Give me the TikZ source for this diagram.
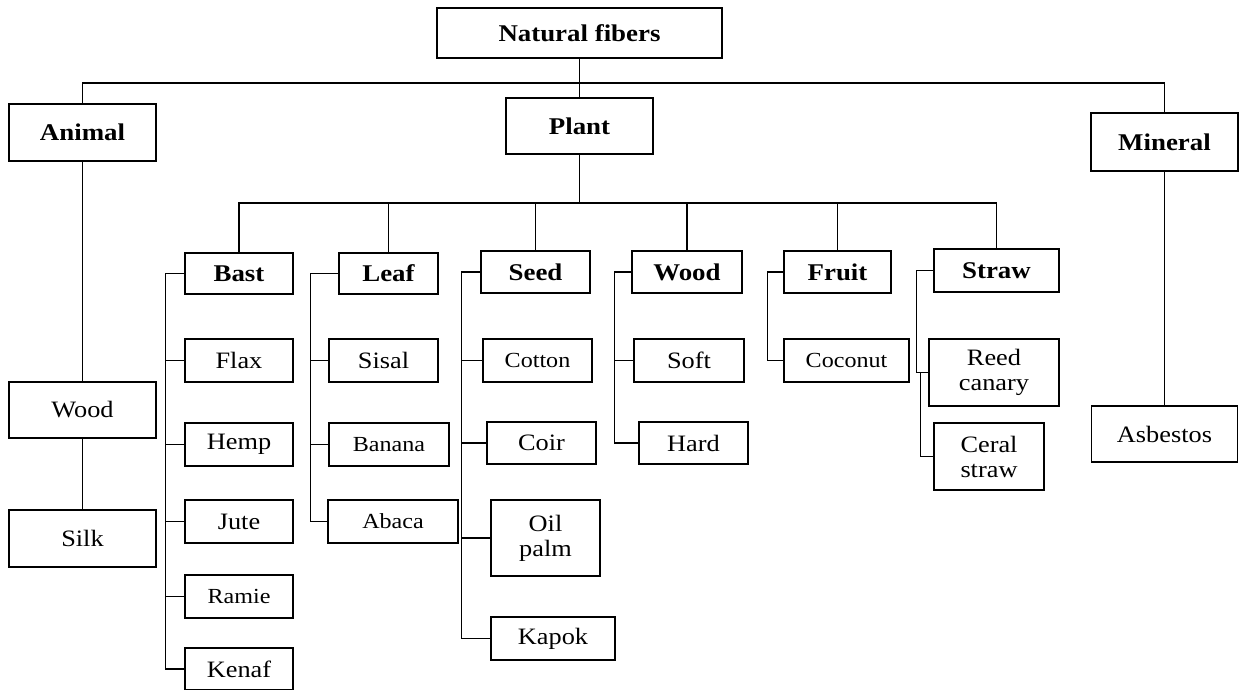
\documentclass[tikz,border=0pt]{standalone}
\usepackage{fontspec}
\setmainfont{Liberation Serif}[FakeStretch=1.12]
\usepackage{tikz}
\tikzset{
        catbox/.style={rectangle, draw, line width=1.5pt, inner sep=0pt, align=center, font=\fontsize{24}{26}\selectfont\bfseries},
        itembox/.style={rectangle, draw, line width=1.5pt, inner sep=0pt, align=center, font=\fontsize{23.5}{25}\selectfont},
        smallbox/.style={itembox, font=\fontsize{21.5}{25}\selectfont},
        box size/.style 2 args={minimum width=#1pt, minimum height=#2pt}
    }
\begin{document}
\begin{tikzpicture}[x=1pt,y=-1pt,line width=1.5pt]
\useasboundingbox (0,0) rectangle (1240,690);
\node(NF)[catbox,box size={285}{50}] at (579.5,33) {Natural fibers};
\node(AN)[catbox,box size={147}{57}] at (82.5,132.5) {Animal};
\node(PL)[catbox,box size={147}{56}] at (579.5,126) {Plant};
\node(MI)[catbox,box size={147}{58}] at (1164.5,142) {Mineral};
\node(AW)[itembox,box size={147}{56}] at (82.5,410) {Wood};
\node(SI)[itembox,box size={147}{57}] at (82.5,538.5) {Silk};
\node(AS)[itembox,box size={146}{56}] at (1164.5,434) {Asbestos};
\node(BA)[catbox,box size={108}{41}] at (239,273.5) {Bast};
\node(FL)[itembox,box size={108}{43}] at (239,360.5) {Flax};
\node(HE)[itembox,box size={108}{43}] at (239,444.5) {Hemp};
\node(JU)[itembox,box size={108}{43}] at (239,521.5) {Jute};
\node(RA)[smallbox,box size={108}{43}] at (239,596.5) {Ramie};
\node(KE)[itembox,box size={108}{42}] at (239,669) {Kenaf};
\node(LE)[catbox,box size={99}{41}] at (388.5,273.5) {Leaf};
\node(SS)[itembox,box size={109}{43}] at (383.5,360.5) {Sisal};
\node(BN)[smallbox,box size={120}{43}] at (389,444.5) {Banana};
\node(AB)[smallbox,box size={130}{43}] at (393,521.5) {Abaca};
\node(SE)[catbox,box size={109}{42}] at (535.5,272) {Seed};
\node(CT)[smallbox,box size={109}{43}] at (537.5,360.5) {Cotton};
\node(CR)[itembox,box size={109}{42}] at (541.5,443) {Coir};
\node(OP)[itembox,box size={109}{76}] at (545.5,538) {Oil\\palm};
\node(KA)[itembox,box size={124}{43}] at (553,638.5) {Kapok};
\node(WD)[catbox,box size={110}{42}] at (687,272) {Wood};
\node(SO)[itembox,box size={110}{43}] at (689,360.5) {Soft};
\node(HA)[itembox,box size={109}{42}] at (693.5,443) {Hard};
\node(FR)[catbox,box size={107}{42}] at (837.5,272) {Fruit};
\node(CO)[smallbox,box size={125}{43}] at (846.5,360.5) {Coconut};
\node(ST)[catbox,box size={125}{43}] at (996.5,270.5) {Straw};
\node(RC)[itembox,box size={130}{67}] at (994,372.5) {Reed\\canary};
\node(CS)[itembox,box size={110}{67}] at (989,456.5) {Ceral\\straw};

\coordinate (NB) at (579.5,83);
\draw (NF.south) -- (NB);
\draw (AN.north) |- (NB) -| (MI.north);
\draw (NB) -- (PL.north);
\draw (AN.south) -- (AW.north);
\draw (AW.south) -- (SI.north);
\draw (MI.south) -- (AS.north);

\coordinate (PB) at (579.5,203);
\draw (PL.south) -- (PB);
\draw (BA.north) |- (PB) -| (ST.north);
\foreach \n in {LE,SE,WD,FR}
  \draw (\n.north) -- (\n.north |- PB);

\draw (BA.west) -- ++(-19,0) coordinate (BT) |- (KE.west);
\foreach \n in {FL,HE,JU,RA}
  \draw (BT |- \n.west) -- (\n.west);
\draw (LE.west) -- ++(-28,0) coordinate (LT) |- (AB.west);
\foreach \n in {SS,BN}
  \draw (LT |- \n.west) -- (\n.west);
\draw (SE.west) -- ++(-19,0) coordinate (ET) |- (KA.west);
\foreach \n in {CT,CR,OP}
  \draw (ET |- \n.west) -- (\n.west);
\draw (WD.west) -- ++(-17,0) coordinate (WT) |- (HA.west);
\draw (WT |- SO.west) -- (SO.west);
\draw (FR.west) -- ++(-16,0) |- (CO.west);
\draw (ST.west) -- ++(-17,0) |- (RC.west);
\draw (RC.west) ++(-8,0) |- (CS.west);
\end{tikzpicture}
\end{document}
